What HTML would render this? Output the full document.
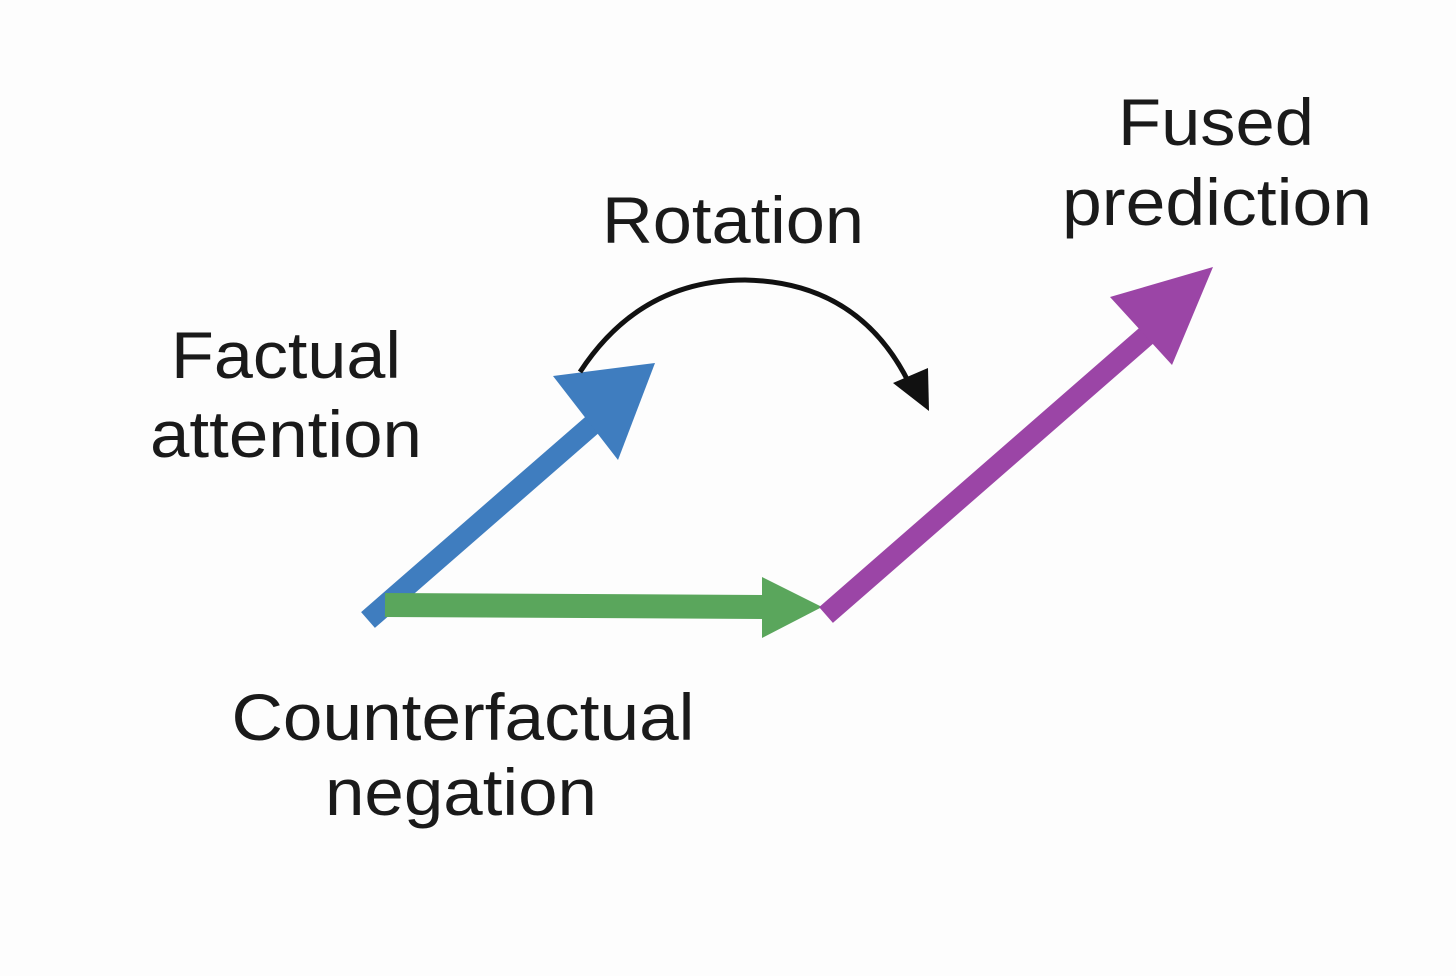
<!DOCTYPE html>
<html><head><meta charset="utf-8"><style>html,body{margin:0;padding:0;background:#fdfdfd}</style></head>
<body>
<svg width="1456" height="971" viewBox="0 0 1456 971" xmlns="http://www.w3.org/2000/svg">
<rect width="1456" height="971" fill="#fdfdfd"/>
<g font-family="Liberation Sans, Arial, sans-serif" font-size="66" fill="#1a1a1a" text-anchor="middle">
<text x="733" y="243" textLength="262" lengthAdjust="spacingAndGlyphs">Rotation</text>
<text x="286" y="378" textLength="230" lengthAdjust="spacingAndGlyphs">Factual</text>
<text x="286" y="457" textLength="272" lengthAdjust="spacingAndGlyphs">attention</text>
<text x="1216" y="145" textLength="196" lengthAdjust="spacingAndGlyphs">Fused</text>
<text x="1217" y="225" textLength="310" lengthAdjust="spacingAndGlyphs">prediction</text>
<text x="463" y="740" textLength="463" lengthAdjust="spacingAndGlyphs">Counterfactual</text>
<text x="461" y="815" textLength="272" lengthAdjust="spacingAndGlyphs">negation</text>
</g>
<line x1="368" y1="620" x2="600" y2="418" stroke="#3f7dbf" stroke-width="21"/>
<polygon points="655,363 553,376 618,460" fill="#3f7dbf"/>
<line x1="385" y1="605" x2="768" y2="607" stroke="#5aa65c" stroke-width="24"/>
<polygon points="822,607 762,577 762,638" fill="#5aa65c"/>
<line x1="826" y1="615" x2="1170" y2="315" stroke="#9b45a6" stroke-width="21"/>
<polygon points="1213,267 1110,297 1172,365" fill="#9b45a6"/>
<path d="M580,372 Q640,280 745,280 Q860,282 910,385" fill="none" stroke="#111" stroke-width="5"/>
<polygon points="929,411 893,383 928,368" fill="#111"/>
</svg>
</body></html>
